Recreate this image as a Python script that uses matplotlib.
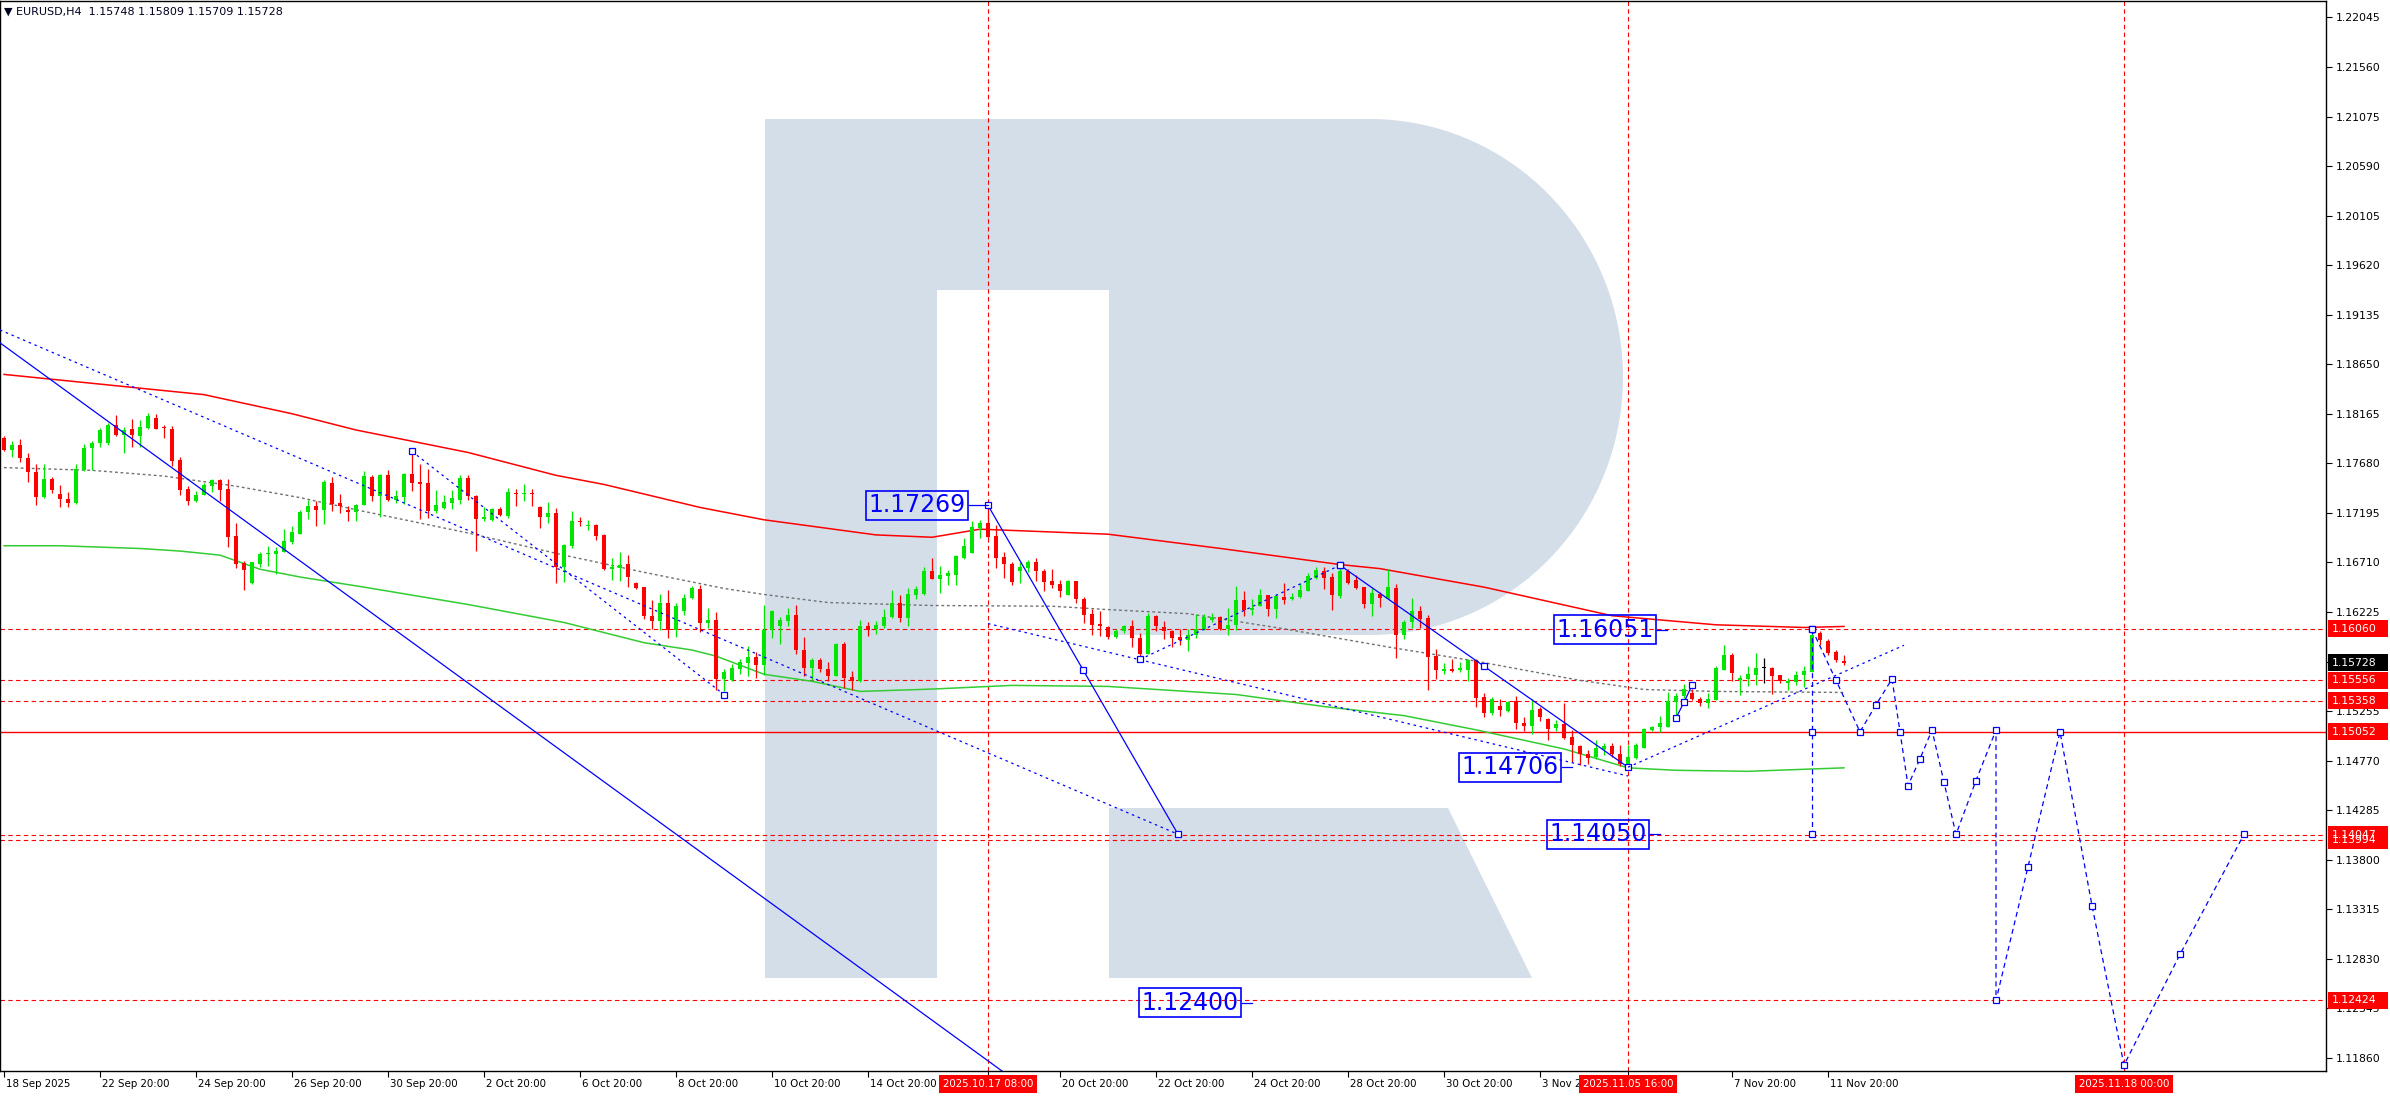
import numpy as np
import matplotlib
matplotlib.use('Agg')
import matplotlib.pyplot as plt
import matplotlib.transforms as mtransforms
from matplotlib.patches import Polygon, Rectangle

# EURUSD H4 candles, bar 0 = 18 Sep 20:00, one bar per 4 hours
opens = [
    1.17929, 1.17814, 1.17860, 1.17731, 1.17599, 1.17349, 1.17524, 1.17385, 1.17336, 1.17290,
    1.17613, 1.17827, 1.17876, 1.17879, 1.18057, 1.17962, 1.18018, 1.17952, 1.18028, 1.18126,
    1.18034, 1.18018, 1.17711, 1.17425, 1.17310, 1.17369, 1.17458, 1.17514, 1.17425, 1.16970,
    1.16707, 1.16509, 1.16697, 1.16792, 1.16796, 1.16815, 1.16908, 1.16990, 1.17201, 1.17267,
    1.17221, 1.17484, 1.17290, 1.17227, 1.17201, 1.17270, 1.17547, 1.17359, 1.17563, 1.17326,
    1.17349, 1.17573, 1.17494, 1.17484, 1.17211, 1.17244, 1.17290, 1.17326, 1.17534, 1.17365,
    1.17131, 1.17125, 1.17237, 1.17168, 1.17392, 1.17382, 1.17392, 1.17250, 1.17151, 1.17197,
    1.16667, 1.16871, 1.17118, 1.17066, 1.17079, 1.16980, 1.16651, 1.16657, 1.16693, 1.16512,
    1.16466, 1.16189, 1.16133, 1.16315, 1.16048, 1.16232, 1.16361, 1.16453, 1.16117, 1.16147,
    1.15570, 1.15560, 1.15669, 1.15728, 1.15784, 1.15705, 1.16048, 1.16084, 1.16140, 1.16199,
    1.15853, 1.15679, 1.15758, 1.15669, 1.15596, 1.15913, 1.15587, 1.15554, 1.16091, 1.16058,
    1.16091, 1.16173, 1.16318, 1.16163, 1.16394, 1.16403, 1.16624, 1.16545, 1.16578, 1.16585,
    1.16756, 1.16805, 1.17046, 1.17095, 1.16970, 1.16763, 1.16700, 1.16624, 1.16657, 1.16710,
    1.16631, 1.16525, 1.16496, 1.16387, 1.16525, 1.16354, 1.16206, 1.16110, 1.16081, 1.15985,
    1.16038, 1.16091, 1.15969, 1.15817, 1.16189, 1.16081, 1.16041, 1.15982, 1.15955, 1.15998,
    1.16051, 1.16147, 1.16179, 1.16058, 1.16097, 1.16338, 1.16245, 1.16288, 1.16387, 1.16255,
    1.16377, 1.16354, 1.16371, 1.16430, 1.16558, 1.16631, 1.16565, 1.16380, 1.16624, 1.16535,
    1.16466, 1.16305, 1.16403, 1.16354, 1.16462, 1.16005, 1.16123, 1.16239, 1.16163, 1.15794,
    1.15652, 1.15669, 1.15662, 1.15662, 1.15754, 1.15389, 1.15234, 1.15310, 1.15260, 1.15356,
    1.15142, 1.15109, 1.15273, 1.15175, 1.15086, 1.15125, 1.15003, 1.14914, 1.14839, 1.14806,
    1.14888, 1.14914, 1.14839, 1.14740, 1.14796, 1.14898, 1.15069, 1.15096, 1.15096, 1.15343,
    1.15399, 1.15431, 1.15376, 1.15333, 1.15366, 1.15662, 1.15804, 1.15557, 1.15570, 1.15606,
    1.15679, 1.15679, 1.15606, 1.15530, 1.15537, 1.15613, 1.15636, 1.16018, 1.15942, 1.15833,
    1.15748]
highs = [
    1.17952, 1.17896, 1.17919, 1.17781, 1.17678, 1.17672, 1.17547, 1.17464, 1.17402, 1.17678,
    1.17870, 1.17902, 1.18028, 1.18074, 1.18150, 1.18041, 1.18117, 1.18107, 1.18170, 1.18160,
    1.18051, 1.18044, 1.17744, 1.17458, 1.17408, 1.17491, 1.17530, 1.17530, 1.17530, 1.17095,
    1.16723, 1.16713, 1.16815, 1.16875, 1.16865, 1.17039, 1.17069, 1.17227, 1.17326, 1.17316,
    1.17514, 1.17547, 1.17385, 1.17267, 1.17283, 1.17606, 1.17566, 1.17580, 1.17613, 1.17415,
    1.17586, 1.17790, 1.17678, 1.17622, 1.17415, 1.17366, 1.17415, 1.17563, 1.17563, 1.17375,
    1.17250, 1.17243, 1.17250, 1.17441, 1.17425, 1.17474, 1.17425, 1.17260, 1.17303, 1.17243,
    1.16894, 1.17210, 1.17151, 1.17128, 1.17082, 1.16990, 1.16756, 1.16809, 1.16782, 1.16519,
    1.16469, 1.16347, 1.16403, 1.16436, 1.16315, 1.16403, 1.16479, 1.16492, 1.16265, 1.16229,
    1.15669, 1.15712, 1.15761, 1.15893, 1.15837, 1.16298, 1.16249, 1.16173, 1.16262, 1.16298,
    1.15982, 1.15778, 1.15775, 1.15735, 1.15926, 1.15932, 1.15646, 1.16147, 1.16124, 1.16140,
    1.16255, 1.16443, 1.16387, 1.16463, 1.16479, 1.16667, 1.16756, 1.16674, 1.16634, 1.16782,
    1.16947, 1.17112, 1.17125, 1.17269, 1.17079, 1.16815, 1.16716, 1.16716, 1.16733, 1.16756,
    1.16644, 1.16644, 1.16535, 1.16535, 1.16529, 1.16377, 1.16255, 1.16239, 1.16091, 1.16058,
    1.16100, 1.16147, 1.16015, 1.16216, 1.16196, 1.16140, 1.16051, 1.16058, 1.16058, 1.16206,
    1.16203, 1.16212, 1.16183, 1.16265, 1.16479, 1.16427, 1.16354, 1.16446, 1.16394, 1.16403,
    1.16512, 1.16413, 1.16512, 1.16611, 1.16667, 1.16667, 1.16611, 1.16683, 1.16650, 1.16585,
    1.16473, 1.16459, 1.16420, 1.16651, 1.16502, 1.16150, 1.16364, 1.16288, 1.16196, 1.15860,
    1.15728, 1.15761, 1.15735, 1.15761, 1.15761, 1.15431, 1.15389, 1.15372, 1.15356, 1.15399,
    1.15201, 1.15372, 1.15293, 1.15184, 1.15168, 1.15333, 1.15069, 1.14928, 1.14872, 1.14970,
    1.14947, 1.14944, 1.14928, 1.14921, 1.14944, 1.15086, 1.15109, 1.15207, 1.15441, 1.15431,
    1.15520, 1.15471, 1.15389, 1.15431, 1.15695, 1.15903, 1.15827, 1.15613, 1.15695, 1.15827,
    1.15777, 1.15688, 1.15613, 1.15580, 1.15646, 1.15695, 1.16051, 1.16041, 1.15959, 1.15850,
    1.15809]
lows = [
    1.17804, 1.17738, 1.17695, 1.17497, 1.17270, 1.17342, 1.17392, 1.17250, 1.17250, 1.17285,
    1.17610, 1.17613, 1.17843, 1.17860, 1.17952, 1.17777, 1.17837, 1.17843, 1.18020, 1.18018,
    1.17929, 1.17655, 1.17375, 1.17270, 1.17303, 1.17366, 1.17398, 1.17310, 1.16865, 1.16657,
    1.16443, 1.16499, 1.16661, 1.16677, 1.16601, 1.16809, 1.16891, 1.16990, 1.17138, 1.17063,
    1.17086, 1.17211, 1.17191, 1.17112, 1.17112, 1.17270, 1.17316, 1.17155, 1.17316, 1.17293,
    1.17283, 1.17408, 1.17138, 1.17145, 1.17191, 1.17231, 1.17234, 1.17283, 1.17326, 1.16825,
    1.17112, 1.17112, 1.17161, 1.17145, 1.17260, 1.17309, 1.17260, 1.17052, 1.17095, 1.16509,
    1.16519, 1.16848, 1.17072, 1.17029, 1.16930, 1.16641, 1.16535, 1.16529, 1.16469, 1.16446,
    1.16156, 1.16058, 1.16048, 1.15975, 1.15985, 1.16199, 1.16354, 1.16025, 1.16064, 1.15465,
    1.15448, 1.15554, 1.15623, 1.15603, 1.15580, 1.15613, 1.15975, 1.15909, 1.16084, 1.15811,
    1.15596, 1.15563, 1.15636, 1.15547, 1.15596, 1.15481, 1.15458, 1.15537, 1.15992, 1.16008,
    1.16064, 1.16163, 1.16124, 1.16091, 1.16354, 1.16394, 1.16545, 1.16413, 1.16492, 1.16486,
    1.16749, 1.16805, 1.16947, 1.16947, 1.16657, 1.16558, 1.16492, 1.16512, 1.16618, 1.16525,
    1.16427, 1.16459, 1.16371, 1.16387, 1.16311, 1.16114, 1.16002, 1.15992, 1.15965, 1.15975,
    1.16018, 1.15886, 1.15761, 1.15811, 1.16035, 1.15965, 1.15883, 1.15899, 1.15843, 1.15975,
    1.16051, 1.16130, 1.16051, 1.15998, 1.16048, 1.16189, 1.16196, 1.16288, 1.16189, 1.16166,
    1.16305, 1.16347, 1.16364, 1.16427, 1.16552, 1.16446, 1.16245, 1.16361, 1.16499, 1.16453,
    1.16262, 1.16183, 1.16272, 1.16354, 1.15771, 1.15965, 1.16064, 1.16064, 1.15464, 1.15573,
    1.15623, 1.15636, 1.15642, 1.15547, 1.15293, 1.15201, 1.15217, 1.15207, 1.15250, 1.15076,
    1.15059, 1.15036, 1.15161, 1.14977, 1.15059, 1.14987, 1.14756, 1.14723, 1.14740, 1.14789,
    1.14822, 1.14806, 1.14717, 1.14706, 1.14789, 1.14898, 1.15063, 1.15053, 1.15096, 1.15217,
    1.15382, 1.15366, 1.15310, 1.15283, 1.15366, 1.15655, 1.15547, 1.15415, 1.15497, 1.15514,
    1.15530, 1.15422, 1.15530, 1.15464, 1.15514, 1.15488, 1.15636, 1.15903, 1.15804, 1.15738,
    1.15709]
closes = [
    1.17814, 1.17860, 1.17728, 1.17599, 1.17352, 1.17524, 1.17415, 1.17329, 1.17290, 1.17622,
    1.17830, 1.17879, 1.18011, 1.18057, 1.17962, 1.18011, 1.17962, 1.18034, 1.18145, 1.18021,
    1.18028, 1.17705, 1.17418, 1.17316, 1.17366, 1.17464, 1.17514, 1.17418, 1.16964, 1.16700,
    1.16641, 1.16713, 1.16792, 1.16806, 1.16825, 1.16921, 1.17007, 1.17204, 1.17267, 1.17221,
    1.17497, 1.17283, 1.17260, 1.17201, 1.17277, 1.17553, 1.17359, 1.17566, 1.17326, 1.17356,
    1.17580, 1.17487, 1.17481, 1.17217, 1.17277, 1.17300, 1.17339, 1.17534, 1.17359, 1.17131,
    1.17158, 1.17237, 1.17171, 1.17398, 1.17382, 1.17392, 1.17382, 1.17151, 1.17194, 1.16667,
    1.16881, 1.17118, 1.17105, 1.17079, 1.16973, 1.16651, 1.16667, 1.16690, 1.16568, 1.16459,
    1.16183, 1.16133, 1.16318, 1.16048, 1.16288, 1.16367, 1.16459, 1.16117, 1.16150, 1.15570,
    1.15636, 1.15676, 1.15735, 1.15784, 1.15705, 1.16048, 1.16239, 1.16150, 1.16199, 1.15850,
    1.15679, 1.15755, 1.15669, 1.15596, 1.15916, 1.15580, 1.15554, 1.16091, 1.16051, 1.16100,
    1.16179, 1.16318, 1.16163, 1.16397, 1.16453, 1.16624, 1.16545, 1.16585, 1.16608, 1.16772,
    1.16871, 1.17059, 1.17095, 1.16963, 1.16756, 1.16697, 1.16519, 1.16664, 1.16716, 1.16624,
    1.16519, 1.16486, 1.16430, 1.16525, 1.16354, 1.16199, 1.16100, 1.16084, 1.15985, 1.16041,
    1.16087, 1.15969, 1.15817, 1.16189, 1.16084, 1.16038, 1.15975, 1.15952, 1.16002, 1.16058,
    1.16179, 1.16173, 1.16058, 1.16100, 1.16338, 1.16249, 1.16268, 1.16387, 1.16255, 1.16380,
    1.16347, 1.16377, 1.16436, 1.16578, 1.16634, 1.16558, 1.16387, 1.16624, 1.16509, 1.16459,
    1.16305, 1.16410, 1.16361, 1.16466, 1.16005, 1.16130, 1.16239, 1.16156, 1.15787, 1.15662,
    1.15669, 1.15652, 1.15675, 1.15751, 1.15382, 1.15234, 1.15372, 1.15267, 1.15349, 1.15135,
    1.15109, 1.15267, 1.15194, 1.15076, 1.15125, 1.14997, 1.14921, 1.14839, 1.14799, 1.14898,
    1.14914, 1.14839, 1.14740, 1.14806, 1.14928, 1.15076, 1.15102, 1.15135, 1.15359, 1.15405,
    1.15474, 1.15372, 1.15333, 1.15376, 1.15679, 1.15804, 1.15629, 1.15580, 1.15619, 1.15679,
    1.15679, 1.15603, 1.15553, 1.15553, 1.15613, 1.15646, 1.15998, 1.15952, 1.15827, 1.15751,
    1.15728]

# moving averages (bar index, price)
ma_slow_x = [0, 25, 36, 44, 58, 69, 75, 87, 95, 109, 116, 122, 138, 152, 167, 172, 185, 201, 214, 225, 230]
ma_slow_y = [1.18551, 1.18353, 1.18166, 1.18007, 1.17787, 1.17563, 1.17474, 1.17249, 1.17128, 1.16980,
             1.16957, 1.17036, 1.16987, 1.16848, 1.16690, 1.16650, 1.16469, 1.16189, 1.16100, 1.16074, 1.16084]
ma_green_x = [0, 7, 17, 22, 27, 32, 37, 45, 58, 70, 80, 86, 89, 95, 101, 107, 116, 126, 138, 154, 165,
              175, 184, 195, 203, 209, 218, 230]
ma_green_y = [1.16874, 1.16874, 1.16847, 1.16822, 1.16782, 1.16644, 1.16568, 1.16469, 1.16299, 1.16123,
              1.15925, 1.15853, 1.15794, 1.15616, 1.15547, 1.15448, 1.15471, 1.15507, 1.15497, 1.15418,
              1.15300, 1.15211, 1.15072, 1.14885, 1.14700, 1.14676, 1.14666, 1.14700]
ma_gray_x = [0, 11, 20, 29, 37, 45, 58, 70, 80, 90, 95, 103, 116, 131, 138, 148, 160, 173, 184, 197, 205, 214, 230]
ma_gray_y = [1.17639, 1.17612, 1.17556, 1.17457, 1.17345, 1.17210, 1.16999, 1.16782, 1.16614, 1.16456,
             1.16397, 1.16318, 1.16289, 1.16282, 1.16249, 1.16209, 1.16061, 1.15883, 1.15744, 1.15556,
             1.15467, 1.15448, 1.15438]

# analysis lines (bar index, price)
trend_solid_x = [-0.5, 131]
trend_solid_y = [1.18860, 1.11377]
trend_dot_x = [-0.5, 146.75]
trend_dot_y = [1.18986, 1.14050]
wave_b_x = [51, 90]
wave_b_y = [1.17797, 1.15417]
peak_x = [123, 134.9, 146.75]
peak_y = [1.17269, 1.15657, 1.14050]
chan_x = [123, 203]
chan_y = [1.16112, 1.14620]
wave_d_x = [142, 167]
wave_d_y = [1.15761, 1.16683]
wave_e_x = [167, 185, 203]
wave_e_y = [1.16683, 1.15695, 1.14706]
rise_x = [203, 237.5]
rise_y = [1.14706, 1.15900]
mini_x = [209, 210, 211]
mini_y = [1.15188, 1.15342, 1.15508]
target_x = [226, 226, 226]
target_y = [1.16058, 1.15052, 1.14048]
fc_x = [226, 229, 232, 234, 236, 237, 238, 239.5, 241, 242.5, 244, 246.5, 249, 249, 253, 257, 261, 265, 272, 280]
fc_y = [1.16058, 1.15557, 1.15053, 1.15317, 1.15570, 1.15053, 1.14526, 1.14789, 1.15070, 1.14559,
        1.14048, 1.14576, 1.15070, 1.12424, 1.13731, 1.15052, 1.13352, 1.11790, 1.12874, 1.14050]

# price levels
dash_levels = [1.16060, 1.15556, 1.15358, 1.14047, 1.13994, 1.12424]
solid_levels = [1.15052]
tag_levels = [1.16060, 1.15556, 1.15358, 1.15052, 1.13994, 1.14047, 1.12424]
last_price = 1.15728
price_ticks = [1.22045, 1.21560, 1.21075, 1.20590, 1.20105, 1.19620, 1.19135, 1.18650, 1.18165, 1.17680,
               1.17195, 1.16710, 1.16225, 1.15740, 1.15255, 1.14770, 1.14285, 1.13800, 1.13315, 1.12830,
               1.12345, 1.11860]

# time axis (labels hidden behind the red date boxes are left out)
time_bars = [0, 12, 24, 36, 48, 60, 72, 84, 96, 108, 132, 144, 156, 168, 180, 192, 216, 228]
time_labels = ['18 Sep 2025', '22 Sep 20:00', '24 Sep 20:00', '26 Sep 20:00', '30 Sep 20:00', '2 Oct 20:00',
               '6 Oct 20:00', '8 Oct 20:00', '10 Oct 20:00', '14 Oct 20:00', '20 Oct 20:00',
               '22 Oct 20:00', '24 Oct 20:00', '28 Oct 20:00', '30 Oct 20:00', '3 Nov 20:00',
               '7 Nov 20:00', '11 Nov 20:00']
vline_bars = [123, 203, 265]
vline_labels = ['2025.10.17 08:00', '2025.11.05 16:00', '2025.11.18 00:00']

# price boxes: text, price, right edge and connector end in bars
box_texts = ['1.17269', '1.16051', '1.14706', '1.14050', '1.12400']
box_prices = [1.17269, 1.16051, 1.14706, 1.14050, 1.12400]
box_right = [120.6, 206.6, 194.75, 205.75, 154.75]
box_link = [123, 207.9, 196, 207, 156]

RED = '#ff0000'
GREEN = '#00e600'
BLUE = '#0000ff'
LOGO = '#d4dee9'

W, H = 2390, 1100
fig = plt.figure(figsize=(W / 100, H / 100), dpi=100)

# watermark logo, drawn in pixel space behind the chart
bg = fig.add_axes([0, 0, 1, 1], zorder=0)
bg.set_xlim(0, W)
bg.set_ylim(H, 0)
bg.axis('off')
t = np.linspace(np.pi / 2, -np.pi / 2, 80)
cx, cy, ra, rb = 1370, 377, 253, 258
bowl = [(765, 119)] + list(zip(cx + ra * np.cos(t), cy - rb * np.sin(t))) + \
       [(1109, 635), (1109, 290), (937, 290), (937, 978), (765, 978)]
bg.add_patch(Polygon(bowl, closed=True, fc=LOGO, ec='none'))
bg.add_patch(Polygon([(1109, 808), (1448, 808), (1532, 978), (1109, 978)], closed=True, fc=LOGO, ec='none'))

ax = fig.add_axes([0, 1 - 1071 / H, 2326 / W, 1070 / H], zorder=1)
ax.patch.set_alpha(0)
ax.set_xlim(-0.5, 290.25)
ax.set_ylim(1.117327, 1.222059)
for s in ax.spines.values():
    s.set_color('black')
    s.set_linewidth(1.0)

# horizontal / vertical levels
for lv in dash_levels:
    ax.axhline(lv, color=RED, lw=0.8, dashes=(4, 3), zorder=2)
for lv in solid_levels:
    ax.axhline(lv, color=RED, lw=1.0, zorder=2)
for b in vline_bars:
    ax.axvline(b, color=RED, lw=0.8, dashes=(4, 3), zorder=2)

# moving averages
ax.plot(ma_slow_x, ma_slow_y, color=RED, lw=1.1, zorder=3)
ax.plot(ma_green_x, ma_green_y, color='#33cc33', lw=1.1, zorder=3)
ax.plot(ma_gray_x, ma_gray_y, color='#707070', lw=1.0, dashes=(2, 2), zorder=3)

# candles
o = np.array(opens)
h = np.array(highs)
l = np.array(lows)
c = np.array(closes)
idx = np.arange(len(o))
cols = np.where(c > o, GREEN, np.where(c < o, RED, '#000000'))
ax.vlines(idx, l, h, colors=cols, lw=0.9, zorder=4)
body = np.maximum(np.abs(c - o), 0.00008)
ax.bar(idx, body, bottom=np.minimum(o, c) - np.where(np.abs(c - o) < 0.00008, 0.00004, 0), width=0.55,
       color=cols, lw=0, zorder=4)

# analysis drawings
mk = dict(marker='s', ms=4.5, mfc='white', mec=BLUE, mew=0.9)
ax.plot(trend_solid_x, trend_solid_y, color=BLUE, lw=0.9, zorder=5)
ax.plot(trend_dot_x, trend_dot_y, color=BLUE, lw=0.9, dashes=(2, 3), zorder=5)
ax.plot(wave_b_x, wave_b_y, color=BLUE, lw=0.9, dashes=(2, 3), zorder=5, **mk)
ax.plot(peak_x, peak_y, color=BLUE, lw=0.9, zorder=5, **mk)
ax.plot(chan_x, chan_y, color=BLUE, lw=0.9, dashes=(2, 3), zorder=5)
ax.plot(wave_d_x, wave_d_y, color=BLUE, lw=0.9, dashes=(2, 3), zorder=5, **mk)
ax.plot(wave_e_x, wave_e_y, color=BLUE, lw=0.9, zorder=5, **mk)
ax.plot(rise_x, rise_y, color=BLUE, lw=0.9, dashes=(2, 3), zorder=5)
ax.plot(mini_x, mini_y, color=BLUE, lw=0.9, zorder=5, **mk)
ax.plot(target_x, target_y, color=BLUE, lw=0.9, dashes=(4, 3), zorder=5, **mk)
ax.plot(fc_x, fc_y, color=BLUE, lw=0.9, dashes=(4, 3), zorder=5, **mk)

for txt, p, xr, xl in zip(box_texts, box_prices, box_right, box_link):
    ax.plot([xr, xl], [p, p], color=BLUE, lw=0.9, zorder=5)
    ax.text(xr - 0.4, p, txt, ha='right', va='center', fontsize=17, color=BLUE, zorder=6,
            bbox=dict(boxstyle='square,pad=0.1', fc='none', ec=BLUE, lw=1.2))

# right price scale
ax.yaxis.tick_right()
ax.set_yticks(price_ticks)
ax.set_yticklabels([f'{v:.5f}' for v in price_ticks])
ax.tick_params(axis='y', length=4, width=0.8, pad=3, labelsize=7.8, colors='black')
ax.set_xticks(time_bars + vline_bars[:2])
ax.set_xticklabels([])
ax.tick_params(axis='x', length=4, width=0.8)

ytrans = mtransforms.blended_transform_factory(ax.transAxes, ax.transData)
tag_w = 60 / 2326
tag_h = 17 / 10120
for lv in tag_levels:
    ax.add_patch(Rectangle((1.0008, lv - tag_h / 2), tag_w, tag_h, transform=ytrans, fc=RED, ec='none',
                           clip_on=False, zorder=7))
    ax.text(1.0008 + 4 / 2326, lv, f'{lv:.5f}', transform=ytrans, ha='left', va='center', fontsize=7.8,
            color='white', zorder=8, clip_on=False)
ax.add_patch(Rectangle((1.0008, last_price - tag_h / 2), tag_w, tag_h, transform=ytrans, fc='black',
                       ec='none', clip_on=False, zorder=7))
ax.text(1.0008 + 4 / 2326, last_price, f'{last_price:.5f}', transform=ytrans, ha='left', va='center',
        fontsize=7.8, color='white', zorder=8, clip_on=False)

# time labels
xtrans = mtransforms.blended_transform_factory(ax.transData, ax.transAxes)
lab_trans = mtransforms.offset_copy(xtrans, fig=fig, x=2, y=-8, units='dots')
for b, s in zip(time_bars, time_labels):
    ax.text(b, 0, s, transform=lab_trans, ha='left', va='top', fontsize=7.4, color='black', clip_on=False)
box_trans = mtransforms.offset_copy(xtrans, fig=fig, x=0, y=-8, units='dots')
for b, s in zip(vline_bars, vline_labels):
    ax.text(b, 0, s, transform=box_trans, ha='center', va='top', fontsize=7.4, color='white', clip_on=False,
            zorder=9, bbox=dict(boxstyle='square,pad=0.35', fc=RED, ec='none'))

fig.text(4 / W, 1 - 12 / H, '\u25bc EURUSD,H4  1.15748 1.15809 1.15709 1.15728', ha='left', va='center',
         fontsize=8, color='#000020')

fig.savefig('out.png', dpi=100)
